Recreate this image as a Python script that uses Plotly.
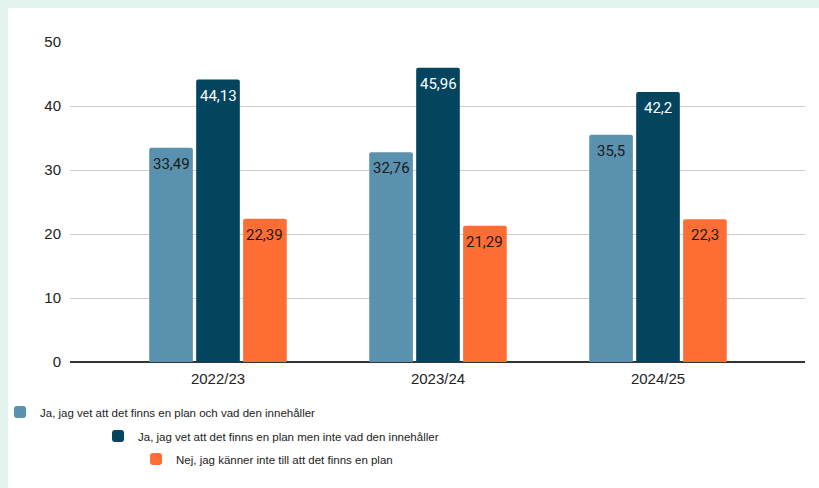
import plotly.graph_objects as go

categories = ["2022/23", "2023/24", "2024/25"]
series_names = [
    "Ja, jag vet att det finns en plan och vad den innehåller",
    "Ja, jag vet att det finns en plan men inte vad den innehåller",
    "Nej, jag känner inte till att det finns en plan",
]
vals_plan_och_innehall = [33.49, 32.76, 35.5]
vals_plan_ej_innehall = [44.13, 45.96, 42.2]
vals_ingen_kannedom = [22.39, 21.29, 22.3]

colors = ["#5a91ae", "#03445f", "#fe6e34"]
label_colors = ["#1a1a1a", "#ffffff", "#1a1a1a"]

W, H = 819, 488
L, R, T, B = 70, 14, 42, 126
pw = W - L - R
ph = H - T - B

def px_x(px):
    return (px - L) / pw

def px_y(py):
    return (H - B - py) / ph

BARGAP = 0.36
k = 220.0                      # pixels per category
slot_px = (1 - BARGAP) * k / 3  # pixel width of each bar slot within a group

fig = go.Figure()
all_vals = [vals_plan_och_innehall, vals_plan_ej_innehall, vals_ingen_kannedom]
legends = ["legend", "legend2", "legend3"]
annotations = []
for i, (name, vals, c, lc, lg) in enumerate(zip(series_names, all_vals, colors, label_colors, legends)):
    fig.add_trace(go.Bar(
        x=categories, y=vals, name=name,
        marker=dict(color=c, cornerradius=2, line=dict(width=0)),
        legend=lg, hoverinfo="skip",
    ))
    for cat, v in zip(categories, vals):
        annotations.append(dict(
            x=cat, y=v, xref="x", yref="y",
            text=str(v).replace(".", ","), showarrow=False,
            xanchor="center", yanchor="middle",
            xshift=(i - 1) * slot_px, yshift=-16,
            font=dict(family="Roboto", size=15, color=lc),
        ))

x0 = -(218 - L) / k
x1 = (805 - 218) / k

leg_common = dict(bgcolor="rgba(0,0,0,0)", xanchor="left", yanchor="middle",
                  font=dict(family="Liberation Sans, Arial", size=11.5, color="#222222"),
                  itemwidth=30, traceorder="normal")

fig.update_layout(
    width=W, height=H,
    margin=dict(l=L, r=R, t=T, b=B, autoexpand=False),
    paper_bgcolor="#e3f3ee",
    plot_bgcolor="#ffffff",
    barmode="group", bargap=BARGAP, bargroupgap=0.07,
    font=dict(family="Liberation Sans, Arial", size=15, color="#222222"),
    xaxis=dict(range=[x0, x1], showgrid=False, showline=False, zeroline=False,
               ticks="", ticklabelstandoff=6, tickfont=dict(size=15, color="#222222")),
    yaxis=dict(range=[0, 50], dtick=10, showgrid=True, gridcolor="#cccccc", gridwidth=1,
               zeroline=True, zerolinecolor="#333333", zerolinewidth=1.5,
               showline=False, ticks="", ticklabelstandoff=8,
               tickfont=dict(size=15, color="#222222")),
    legend=dict(x=px_x(0), y=px_y(412), **leg_common),
    legend2=dict(x=px_x(98), y=px_y(436), **leg_common),
    legend3=dict(x=px_x(136), y=px_y(459), **leg_common),
    annotations=annotations,
    shapes=[dict(type="rect", xref="paper", yref="paper", layer="below",
                 x0=px_x(8), x1=px_x(W + 20), y0=px_y(H + 20), y1=px_y(8),
                 fillcolor="#ffffff", line=dict(width=0))],
    showlegend=True,
)

fig.write_html("out.html", config={"displayModeBar": False},
               post_script="document.body.style.margin='0';document.body.style.overflow='hidden';")
